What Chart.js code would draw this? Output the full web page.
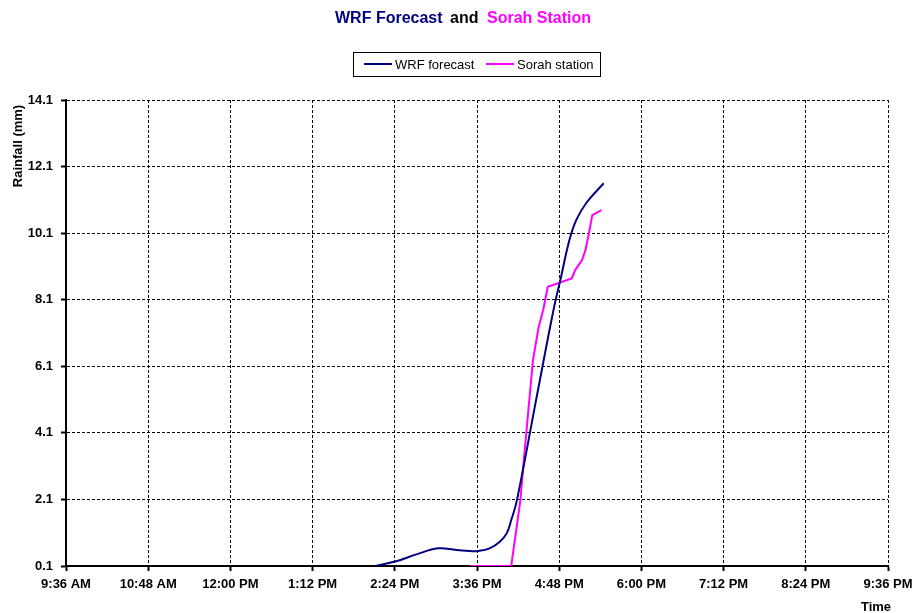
<!DOCTYPE html>
<html>
<head>
<meta charset="utf-8">
<script src="https://cdn.jsdelivr.net/npm/chart.js@4/dist/chart.umd.min.js"></script>
<style>
  html, body { margin: 0; padding: 0; background: #fff; }
  #wrap { position: relative; width: 916px; height: 613px; }
</style>
</head>
<body>
<div id="wrap"><canvas id="chart" width="916" height="613"></canvas></div>
<script>
// ---------------------------------------------------------------------------
// Data (x = minutes since midnight, y = cumulative rainfall in mm)
// ---------------------------------------------------------------------------

const wrfTimes  = [847, 866, 883, 902, 918, 930, 937, 947, 956, 962, 966, 971, 987, 1003, 1009, 1017, 1023, 1032, 1047];
const wrfRain   = [0.1, 0.25, 0.45, 0.63, 0.58, 0.55, 0.55, 0.63, 0.83, 1.08, 1.48, 2.08, 4.95, 7.79, 8.69, 9.9, 10.5, 11.02, 11.6];

const sorahTimes = [930, 966, 974, 977, 985, 990, 994, 998, 1019, 1022, 1028, 1031, 1034, 1037, 1045];
const sorahRain  = [0.1, 0.1, 2.08, 3.28, 6.28, 7.28, 7.79, 8.49, 8.74, 8.99, 9.29, 9.59, 10.09, 10.64, 10.79];

const xTicks = [576, 648, 720, 792, 864, 936, 1008, 1080, 1152, 1224, 1296];
const yTicks = [0.1, 2.1, 4.1, 6.1, 8.1, 10.1, 12.1, 14.1];

const FONT = '"Liberation Sans", Arial, sans-serif';
const NAVY = "#000080";
const MAGENTA = "#FF00FF";

function formatTime(mins) {
    const h24 = Math.floor(mins / 60);
    const m = Math.round(mins % 60);
    const ampm = h24 >= 12 ? "PM" : "AM";
    let h = h24 % 12;
    if (h === 0) h = 12;
    return `${h}:${String(m).padStart(2, "0")} ${ampm}`;
}

function toPoints(xs, ys) {
    return xs.map((x, i) => ({ x, y: ys[i] }));
}

// ---------------------------------------------------------------------------
// Title, legend box and axis titles (Excel style)
// ---------------------------------------------------------------------------

const decor = {
    id: "decor",
    afterDraw(chart) {
        const ctx = chart.ctx;
        ctx.save();

        // multi-coloured title
        ctx.font = `bold 16px ${FONT}`;
        ctx.textBaseline = "middle";
        ctx.textAlign = "left";
        ctx.fillStyle = NAVY;
        ctx.fillText("WRF Forecast", 335, 19);
        ctx.fillStyle = "#000";
        ctx.fillText("and", 450, 19);
        ctx.fillStyle = MAGENTA;
        ctx.fillText("Sorah Station", 487, 19);

        // legend
        ctx.lineWidth = 1;
        ctx.strokeStyle = "#000";
        ctx.strokeRect(353.5, 52.5, 247, 24);
        ctx.font = `13px ${FONT}`;
        const items = chart.data.datasets.map((ds) => ({ label: ds.label, color: ds.borderColor }));
        const starts = [364, 486];
        items.forEach((it, i) => {
            const x0 = starts[i];
            ctx.strokeStyle = it.color;
            ctx.lineWidth = 2;
            ctx.beginPath();
            ctx.moveTo(x0, 64);
            ctx.lineTo(x0 + 28, 64);
            ctx.stroke();
            ctx.fillStyle = "#000";
            ctx.fillText(it.label, x0 + 31, 65);
        });

        // axis titles
        ctx.font = `bold 13px ${FONT}`;
        ctx.fillStyle = "#000";
        ctx.textAlign = "center";
        ctx.fillText("Time", 876, 607);

        ctx.translate(18, 146);
        ctx.rotate(-Math.PI / 2);
        ctx.fillText("Rainfall (mm)", 0, 0);
        ctx.restore();
    },
};

// ---------------------------------------------------------------------------
// Chart
// ---------------------------------------------------------------------------

const ctx = document.getElementById("chart").getContext("2d");

new Chart(ctx, {
    type: "line",
    data: {
        datasets: [
            {
                label: "WRF forecast",
                data: toPoints(wrfTimes, wrfRain),
                borderColor: NAVY,
                borderWidth: 2,
                pointRadius: 0,
                tension: 0.4,
                fill: false,
            },
            {
                label: "Sorah station",
                data: toPoints(sorahTimes, sorahRain),
                borderColor: MAGENTA,
                borderWidth: 2,
                pointRadius: 0,
                tension: 0,
                fill: false,
            },
        ],
    },
    options: {
        responsive: false,
        animation: false,
        layout: { padding: { top: 100, right: 28, left: 0, bottom: 0 } },
        plugins: {
            legend: { display: false },
            title: { display: false },
            tooltip: { enabled: false },
        },
        scales: {
            x: {
                type: "linear",
                min: 576,
                max: 1296,
                afterBuildTicks: (s) => { s.ticks = xTicks.map((v) => ({ value: v })); },
                afterFit: (s) => { s.height = 47; s.paddingLeft = 0; s.paddingRight = 0; },
                ticks: {
                    autoSkip: false,
                    maxRotation: 0,
                    padding: 6,
                    color: "#000",
                    font: { family: FONT, size: 13, weight: "bold" },
                    callback: (v) => formatTime(v),
                },
                grid: { color: "#000", lineWidth: 1, tickColor: "#000", tickLength: 5, tickWidth: 2 },
                border: { display: true, color: "#000", width: 2, dash: [3, 2] },
            },
            y: {
                min: 0.1,
                max: 14.1,
                afterBuildTicks: (s) => { s.ticks = yTicks.map((v) => ({ value: v })); },
                afterFit: (s) => { s.width = 66; s.paddingTop = 0; s.paddingBottom = 0; },
                ticks: {
                    padding: 8,
                    color: "#000",
                    font: { family: FONT, size: 13, weight: "bold" },
                    callback: (v) => Number(v).toFixed(1),
                },
                grid: { color: "#000", lineWidth: 1, tickColor: "#000", tickLength: 5, tickWidth: 2 },
                border: { display: true, color: "#000", width: 2, dash: [3, 2] },
            },
        },
    },
    plugins: [decor],
});
</script>
</body>
</html>
